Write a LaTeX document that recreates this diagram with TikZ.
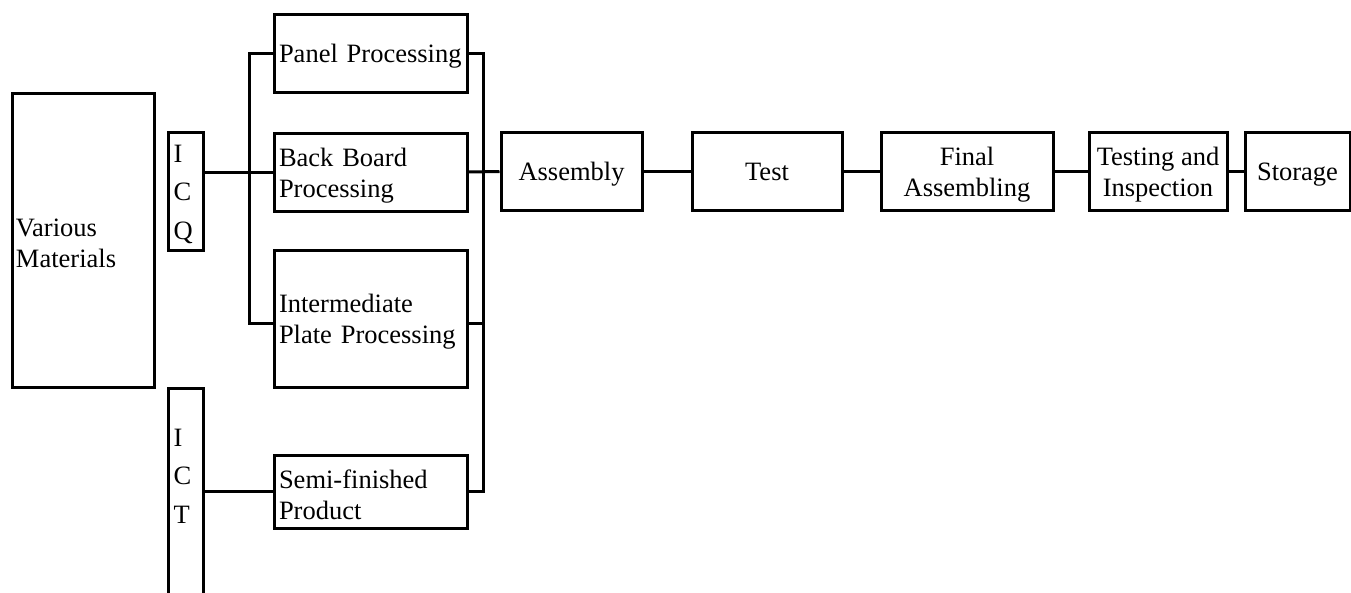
\documentclass[tikz,border=0pt]{standalone}
\usepackage{fontspec}
\setmainfont{Liberation Serif}
\begin{document}
\begin{tikzpicture}[x=1pt,y=-1pt,line width=3pt,
  base/.style={draw, rectangle, font=\fontsize{26.5}{31}\selectfont, inner ysep=0pt},
  lbox/.style={base, align=left, inner xsep=5pt, text width=183pt, minimum width=193pt, text height=25pt},
  cbox/.style={base, align=center, inner xsep=0pt, minimum height=78pt, text depth=0pt},
  tall/.style={draw, rectangle, inner sep=0pt, minimum width=35pt},
  vtext/.style={font=\fontsize{26.5}{38.5}\selectfont, align=left, inner sep=0pt, anchor=west}]
\useasboundingbox (0,0) rectangle (1351,592);
\clip (0,0) rectangle (1351,592);
% left boxes
\node[base, align=left, inner xsep=4pt, text width=134pt, minimum width=142pt, minimum height=294pt, text height=25pt] (vm) at (83,240) {Various\\Materials};
\node[tall, minimum height=118pt] (icq) at (185.5,191) {};
\node[vtext] (icqt) at (172,194) {I\\C\\Q};
\node[tall, minimum height=220pt] (ict) at (185.5,498) {};
\node[vtext] (ictt) at (172,476) {I\\C\\T};
% processing boxes
\node[lbox, minimum height=78pt] (panel) at (370.5,53) {Panel Processing};
\node[lbox, minimum height=78pt] (back) at (370.5,172) {Back Board\\Processing};
\node[lbox, minimum height=137pt] (inter) at (370.5,318.5) {Intermediate\\Plate Processing};
\node[lbox, minimum height=73pt] (semi) at (370.5,491.5) {Semi-finished\\Product};
% main line
\node[cbox, minimum width=141pt] (assembly) at (571.5,171.5) {Assembly};
\node[cbox, minimum width=150pt] (test) at (767,171.5) {Test};
\node[cbox, minimum width=172pt] (final) at (967,171.5) {Final\\Assembling};
\node[cbox, minimum width=138pt] (testing) at (1158,171.5) {Testing and\\Inspection};
\node[cbox, minimum width=105pt] (storage) at (1297.5,171.5) {Storage};
% connectors
\draw (icq.east |- back.west) -- (back.west);
\draw (panel.west) -- ++(-23,0) |- ([yshift=-4.5pt]inter.west);
\draw (ict.east |- semi.west) -- (semi.west);
\draw (panel.east) -- ++(15,0) |- (semi.east);
\draw ([yshift=-4.5pt]inter.east) -- ++(15,0);
\draw (back.east) -- (assembly.west);
\draw (assembly.east) -- (test.west);
\draw (test.east) -- (final.west);
\draw (final.east) -- (testing.west);
\draw (testing.east) -- (storage.west);
\end{tikzpicture}
\end{document}
